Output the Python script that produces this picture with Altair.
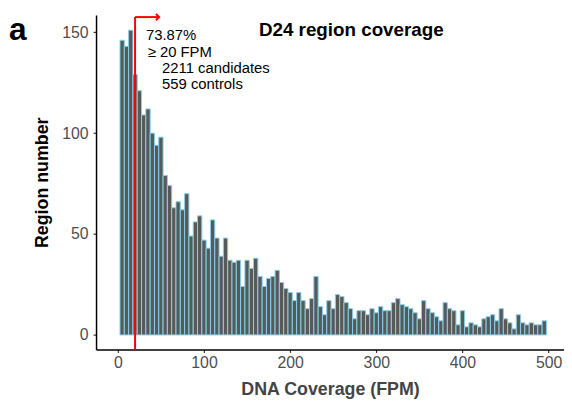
import altair as alt
import pandas as pd

# Histogram: bin centres (FPM) and region counts
bin_centers = [5 * i for i in range(1, 100)]
counts = [146, 143, 151, 129, 121, 109, 112, 100, 94, 98,
          79, 74, 63, 66, 62, 70, 49, 56, 59, 47,
          43, 57, 48, 39, 48, 37, 36, 37, 24, 37,
          33, 38, 29, 24, 28, 29, 32, 26, 23, 21,
          17, 21, 17, 13, 18, 29, 14, 10, 17, 13,
          20, 19, 16, 13, 8, 12, 12, 10, 13, 11,
          14, 12, 12, 16, 18, 15, 14, 13, 11, 8,
          17, 13, 11, 9, 7, 16, 13, 12, 5, 12,
          4, 6, 5, 4, 8, 9, 10, 7, 13, 8,
          6, 3, 10, 6, 5, 6, 5, 5, 7]
bin_width = 5

x_ticks = [0, 100, 200, 300, 400, 500]
y_ticks = [0, 50, 100, 150]

threshold = 20
arrow_y = 157.5
arrow_end = 47.9

annot_lines = ["73.87%", "\u2265 20 FPM", "2211 candidates", "559 controls"]
annot_x = [32.6, 34.6, 51.3, 51.3]
annot_y = [146.1, 137.6, 129.7, 121.9]

title_text = "D24 region coverage"
title_x = 271
title_y = 148.0

FONT = "Liberation Sans"

df = pd.DataFrame({
    "start": [c - bin_width / 2 for c in bin_centers],
    "end": [c + bin_width / 2 for c in bin_centers],
    "count": counts,
})

xs = alt.Scale(domain=[-25.3, 517.9], nice=False, zero=False)
ys = alt.Scale(domain=[-7.2, 158.5], nice=False, zero=False)

bars = alt.Chart(df).mark_bar(fill="#595959", stroke="#87CEEB", strokeWidth=1).encode(
    x=alt.X("start:Q", scale=xs,
            axis=alt.Axis(values=x_ticks, title="DNA Coverage (FPM)", titleColor="#444444",
                          titlePadding=11, labelPadding=2)),
    x2="end:Q",
    y=alt.Y("count:Q", scale=ys,
            axis=alt.Axis(values=y_ticks, title="Region number", titleColor="#000000",
                          titlePadding=10, labelPadding=5)),
    y2=alt.datum(0),
)

vline_df = pd.DataFrame({"x": [threshold], "y0": [-7.2], "y1": [arrow_y]})
vline = alt.Chart(vline_df).mark_rule(color="#FF0000", strokeWidth=2).encode(
    x=alt.X("x:Q", scale=xs), y=alt.Y("y0:Q", scale=ys), y2="y1:Q")

hline_df = pd.DataFrame({"x0": [threshold], "x1": [arrow_end], "y": [arrow_y]})
hline = alt.Chart(hline_df).mark_rule(color="#FF0000", strokeWidth=2).encode(
    x=alt.X("x0:Q", scale=xs), x2="x1:Q", y=alt.Y("y:Q", scale=ys))

head_df = pd.DataFrame({"x": [arrow_end], "y": [arrow_y]})
head = alt.Chart(head_df).mark_point(
    shape="M -1 -1 L 0 0 L -1 1", filled=False, stroke="#FF0000", strokeWidth=2, size=40, opacity=1
).encode(x=alt.X("x:Q", scale=xs), y=alt.Y("y:Q", scale=ys))

annot_df = pd.DataFrame({"t": annot_lines, "x": annot_x, "y": annot_y})
annot = alt.Chart(annot_df).mark_text(
    align="left", baseline="alphabetic", fontSize=15, font=FONT, color="#000000"
).encode(x=alt.X("x:Q", scale=xs), y=alt.Y("y:Q", scale=ys), text="t:N")

title_df = pd.DataFrame({"t": [title_text], "x": [title_x], "y": [title_y]})
title = alt.Chart(title_df).mark_text(
    align="center", baseline="alphabetic", fontSize=19, fontWeight="bold", font=FONT, color="#000000"
).encode(x=alt.X("x:Q", scale=xs), y=alt.Y("y:Q", scale=ys), text="t:N")

tag_df = pd.DataFrame({"t": ["a"]})
tag = alt.Chart(tag_df).mark_text(
    align="left", baseline="alphabetic", fontSize=32, fontWeight="bold", font=FONT, color="#000000"
).encode(x=alt.value(-88), y=alt.value(25), text="t:N")

chart = alt.layer(bars, vline, hline, head, annot, title, tag).properties(
    width=473, height=338,
    autosize=alt.AutoSizeParams(type="none"),
    padding={"left": 89, "top": 5, "right": 0, "bottom": 55},
).configure_view(stroke=None).configure_axis(
    grid=False, domainColor="#000000", domainWidth=1.5, tickColor="#333333", tickSize=3,
    tickWidth=1.2, labelFont=FONT, labelFontSize=16, labelColor="#4D4D4D",
    titleFont=FONT, titleFontSize=18, titleFontWeight="bold",
)

chart.save("out.html", embed_options={"renderer": "svg", "actions": False})
